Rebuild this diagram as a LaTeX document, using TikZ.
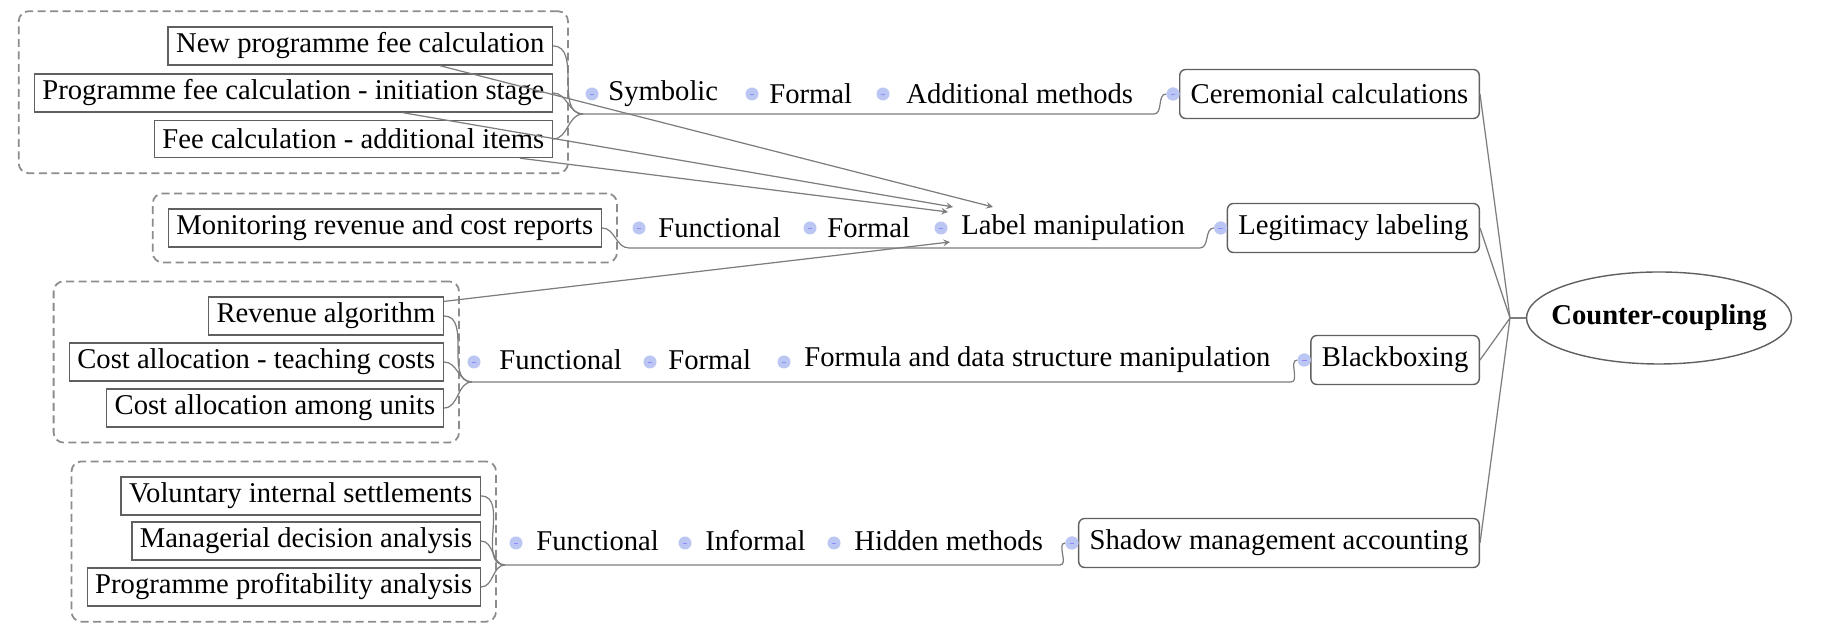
\documentclass[tikz,border=0pt]{standalone}
\usepackage{fontspec}
\setmainfont{Liberation Serif}
\usepackage{xcolor}
\usepackage{tikz}
\usetikzlibrary{shapes,positioning,fit}
\definecolor{linkgray}{RGB}{125,125,125}
\definecolor{dotblue}{RGB}{188,198,242}
\newcommand{\mapfont}{\fontsize{16.3}{19}\selectfont}
\tikzset{leaf/.style={rectangle,draw=gray!75!black,line width=0.8pt,minimum height=0.74cm,inner xsep=0.16cm,anchor=east,font=\mapfont}}
\tikzset{topic/.style={rectangle,rounded corners=0.12cm,draw=gray!75!black,line width=0.8pt,minimum height=0.98cm,inner xsep=0.22cm,anchor=east,font=\mapfont}}
\tikzset{lbl/.style={anchor=west,inner sep=0pt,font=\mapfont}}
\tikzset{dot/.style={circle,fill=dotblue,inner sep=0pt,minimum size=0.26cm,path picture={\draw[blue!45,line width=0.5pt] ([xshift=-1.4pt]path picture bounding box.center) -- ([xshift=1.4pt]path picture bounding box.center);}}}
\tikzset{grp/.style={draw=gray!90,line width=1pt,dash pattern=on 0.16cm off 0.09cm,rounded corners=0.2cm,inner sep=0.3cm}}
\tikzset{link/.style={draw=linkgray,line width=0.7pt}}
\tikzset{core/.style={ellipse,draw=gray!75!black,line width=0.8pt,inner sep=0pt,minimum width=5.3cm,minimum height=1.84cm,font=\mapfont\bfseries}}

\begin{document}
\begin{tikzpicture}[>=stealth]
    \useasboundingbox (0,0) rectangle (36.54,12.48);

    % leaf boxes
    \node[leaf] (newfee) at (11.06,11.56) {New programme fee calculation};
    \node[leaf] (initfee) at (11.06,10.62) {Programme fee calculation - initiation stage};
    \node[leaf] (addfee) at (11.06,9.70) {Fee calculation - additional items};
    \node[leaf] (monitor) at (12.04,7.92) {Monitoring revenue and cost reports};
    \node[leaf] (revalg) at (8.88,6.16) {Revenue algorithm};
    \node[leaf] (teach) at (8.88,5.24) {Cost allocation - teaching costs};
    \node[leaf] (units) at (8.88,4.32) {Cost allocation among units};
    \node[leaf] (volun) at (9.62,2.56) {Voluntary internal settlements};
    \node[leaf] (manag) at (9.62,1.66) {Managerial decision analysis};
    \node[leaf] (profit) at (9.62,0.74) {Programme profitability analysis};

    \node[grp,fit=(newfee)(initfee)(addfee)] (grpfee) {};
    \node[grp,fit=(monitor)] (grpmon) {};
    \node[grp,fit=(revalg)(teach)(units)] (grpalg) {};
    \node[grp,fit=(volun)(manag)(profit)] (grpshd) {};

    % topics
    \node[topic] (cer) at (29.60,10.60) {Ceremonial calculations};
    \node[topic] (leg) at (29.60,7.92) {Legitimacy labeling};
    \node[topic] (black) at (29.60,5.28) {Blackboxing};
    \node[topic] (shadow) at (29.60,1.62) {Shadow management accounting};
    \node[core] (cc) at (33.18,6.12) {\makebox[0pt]{Counter-coupling}};

    \coordinate (j1) at (11.66,10.20);
    \coordinate (e1) at (23.08,10.20);
    \coordinate (j2) at (12.58,7.52);
    \coordinate (e2) at (24.00,7.52);
    \coordinate (j3) at (9.44,4.84);
    \coordinate (e3) at (25.82,4.84);
    \coordinate (j4) at (10.10,1.18);
    \coordinate (e4) at (21.20,1.18);
    \coordinate (hub) at (30.20,6.12);

    % branches
    \draw [link] (newfee.east) to [out=0,in=180] (j1);
    \draw [link] (initfee.east) to [out=0,in=180] (j1);
    \draw [link] (addfee.east) to [out=0,in=180] (j1);
    \draw [link] (monitor.east) to [out=0,in=180] (j2);
    \draw [link] (revalg.east) to [out=0,in=180] (j3);
    \draw [link] (teach.east) to [out=0,in=180] (j3);
    \draw [link] (units.east) to [out=0,in=180] (j3);
    \draw [link] (volun.east) to [out=0,in=180] (j4);
    \draw [link] (manag.east) to [out=0,in=180] (j4);
    \draw [link] (profit.east) to [out=0,in=180] (j4);

    \node[dot] (dcer) at ([xshift=-0.12cm]cer.west) {};
    \node[dot] (dleg) at ([xshift=-0.12cm]leg.west) {};
    \node[dot] (dblack) at ([xshift=-0.12cm]black.west) {};
    \node[dot] (dshadow) at ([xshift=-0.12cm]shadow.west) {};

    \draw [link] (j1) -- (e1) to [out=0,in=180] (dcer);
    \draw [link] (j2) -- (e2) to [out=0,in=180] (dleg);
    \draw [link] (j3) -- (e3) to [out=0,in=180] (dblack);
    \draw [link] (j4) -- (e4) to [out=0,in=180] (dshadow);
    \node[dot] at (dcer) {};
    \node[dot] at (dleg) {};
    \node[dot] at (dblack) {};
    \node[dot] at (dshadow) {};

    % labels on the branches
    \node[dot] (d11) at (11.84,10.60) {};
    \node[lbl] (sym) at (12.16,10.60) {Symbolic};
    \node[dot] (d12) at (15.04,10.60) {};
    \node[lbl] (form1) at (15.38,10.60) {Formal};
    \node[dot] (d13) at (17.66,10.60) {};
    \node[lbl] (addm) at (18.12,10.60) {Additional methods};

    \node[dot] (d21) at (12.78,7.92) {};
    \node[lbl] (func2) at (13.16,7.92) {Functional};
    \node[dot] (d22) at (16.20,7.92) {};
    \node[lbl] (form2) at (16.54,7.92) {Formal};
    \node[dot] (d23) at (18.82,7.92) {};
    \node[lbl] (lm) at (19.22,7.92) {Label manipulation};

    \node[dot] (d31) at (9.48,5.24) {};
    \node[lbl] (func3) at (9.98,5.28) {Functional};
    \node[dot] (d32) at (13.00,5.24) {};
    \node[lbl] (form3) at (13.36,5.28) {Formal};
    \node[dot] (d33) at (15.68,5.24) {};
    \node[lbl] (fdsm) at (16.08,5.28) {Formula and data structure manipulation};

    \node[dot] (d41) at (10.32,1.62) {};
    \node[lbl] (func4) at (10.72,1.66) {Functional};
    \node[dot] (d42) at (13.70,1.62) {};
    \node[lbl] (inform) at (14.10,1.66) {Informal};
    \node[dot] (d43) at (16.68,1.62) {};
    \node[lbl] (hidden) at (17.08,1.66) {Hidden methods};

    % to the core
    \draw [link] (cer.east) to [] (hub);
    \draw [link] (leg.east) to [] (hub);
    \draw [link] (black.east) to [] (hub);
    \draw [link] (shadow.east) to [] (hub);
    \draw [link] (hub) to [] (cc.west);

    % cross links to label manipulation
    \coordinate (t1) at (19.86,8.34);
    \coordinate (t2) at (19.06,8.34);
    \coordinate (t3) at (18.96,8.24);
    \coordinate (t4) at (19.00,7.64);
    \draw [link,->] ([xshift=-2.26cm]newfee.south east) to [] (t1);
    \draw [link,->] ([xshift=-3.00cm]initfee.south east) to [] (t2);
    \draw [link,->] ([xshift=-0.66cm]addfee.south east) to [] (t3);
    \draw [link,->] ([yshift=-0.1cm]revalg.north east) to [] (t4);
\end{tikzpicture}
\end{document}
